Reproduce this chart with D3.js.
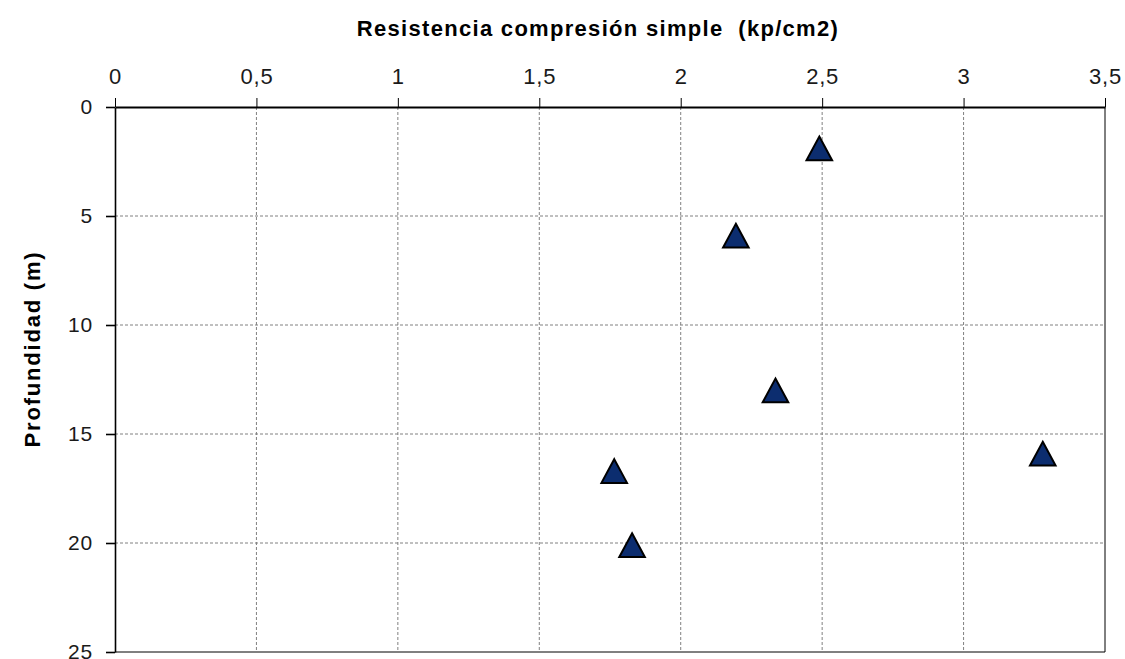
<!DOCTYPE html>
<html>
<head>
<meta charset="utf-8">
<script src="https://cdn.jsdelivr.net/npm/d3@7"></script>
<style>
  html, body { margin: 0; padding: 0; background: #fff; }
  svg { display: block; }
</style>
</head>
<body>
<svg id="chart" width="1125" height="659"></svg>
<script>
// Unconfined compressive strength vs. depth
const strength = [2.49, 2.195, 2.335, 3.28, 1.765, 1.828];   // kp/cm2
const depth    = [1.9, 5.9, 13.0, 15.9, 16.7, 20.1];         // m
const xTicks = [0, 0.5, 1, 1.5, 2, 2.5, 3, 3.5];
const yTicks = [0, 5, 10, 15, 20, 25];
const xTitle = "Resistencia compresión simple  (kp/cm2)";
const yTitle = "Profundidad (m)";

const W = 1125, H = 659;
const m = { left: 115, right: 20, top: 107, bottom: 7 };
const svg = d3.select("#chart");
const FONT = "Liberation Sans, Arial, sans-serif";

const x = d3.scaleLinear().domain([0, 3.5]).range([m.left, W - m.right]);
const y = d3.scaleLinear().domain([0, 25]).range([m.top, H - m.bottom]);

const fmt = d => String(d).replace(".", ",");

// gridlines
svg.append("g").selectAll("line").data(xTicks.slice(1, -1)).join("line")
  .attr("x1", d => x(d)).attr("x2", d => x(d))
  .attr("y1", y(0)).attr("y2", y(25))
  .attr("stroke", "#808080").attr("stroke-width", 1).attr("stroke-dasharray", "3,2");
svg.append("g").selectAll("line").data(yTicks.slice(1, -1)).join("line")
  .attr("y1", d => y(d)).attr("y2", d => y(d))
  .attr("x1", x(0)).attr("x2", x(3.5))
  .attr("stroke", "#808080").attr("stroke-width", 1).attr("stroke-dasharray", "3,2");

// plot frame (right and bottom)
svg.append("line").attr("x1", x(3.5)).attr("x2", x(3.5)).attr("y1", y(0)).attr("y2", y(25))
  .attr("stroke", "#000").attr("stroke-width", 1);
svg.append("line").attr("x1", x(0)).attr("x2", x(3.5)).attr("y1", y(25)).attr("y2", y(25))
  .attr("stroke", "#000").attr("stroke-width", 1);

// top axis
const xAxis = svg.append("g").attr("transform", `translate(0,${y(0)})`)
  .call(d3.axisTop(x).tickValues(xTicks).tickFormat(fmt).tickSizeInner(9).tickSizeOuter(0).tickPadding(14));
xAxis.select(".domain").attr("stroke", "#000").attr("stroke-width", 2.2);
xAxis.selectAll(".tick line").attr("stroke", "#000").attr("stroke-width", 1);
xAxis.selectAll(".tick text").attr("font-family", FONT)
  .attr("font-size", 22).attr("fill", "#1a1a1a").attr("letter-spacing", 0.8);

// left axis
const yAxis = svg.append("g").attr("transform", `translate(${x(0)},0)`)
  .call(d3.axisLeft(y).tickValues(yTicks).tickFormat(fmt).tickSizeInner(9).tickSizeOuter(0).tickPadding(13));
yAxis.select(".domain").attr("stroke", "#000").attr("stroke-width", 1.6);
yAxis.selectAll(".tick line").attr("stroke", "#000").attr("stroke-width", 1.6);
yAxis.selectAll(".tick text").attr("font-family", FONT)
  .attr("font-size", 21).attr("fill", "#1a1a1a").attr("letter-spacing", 0.8);

// axis titles
svg.append("text").attr("x", 598).attr("y", 35.5).attr("text-anchor", "middle")
  .attr("font-family", FONT).attr("font-weight", "bold")
  .attr("font-size", 22).attr("letter-spacing", 1.3)
  .attr("fill", "#000").style("white-space", "pre").text(xTitle);
svg.append("text").attr("transform", "translate(40,349) rotate(-90)").attr("text-anchor", "middle")
  .attr("font-family", FONT).attr("font-weight", "bold")
  .attr("font-size", 22).attr("letter-spacing", 1.8)
  .attr("fill", "#000").text(yTitle);

// triangle marker centred on its bounding box
const triangleType = {
  draw(ctx, size) {
    const s = Math.sqrt(size);
    ctx.moveTo(0, -s / 2);
    ctx.lineTo(s * 0.54, s / 2);
    ctx.lineTo(-s * 0.54, s / 2);
    ctx.closePath();
  }
};
const tri = d3.symbol().type(triangleType).size(560);
svg.append("g").selectAll("path").data(d3.range(strength.length)).join("path")
  .attr("transform", i => `translate(${x(strength[i])},${y(depth[i])})`)
  .attr("d", tri)
  .attr("fill", "#0c2d6f").attr("stroke", "#000").attr("stroke-width", 2).attr("stroke-linejoin", "miter");
</script>
</body>
</html>
